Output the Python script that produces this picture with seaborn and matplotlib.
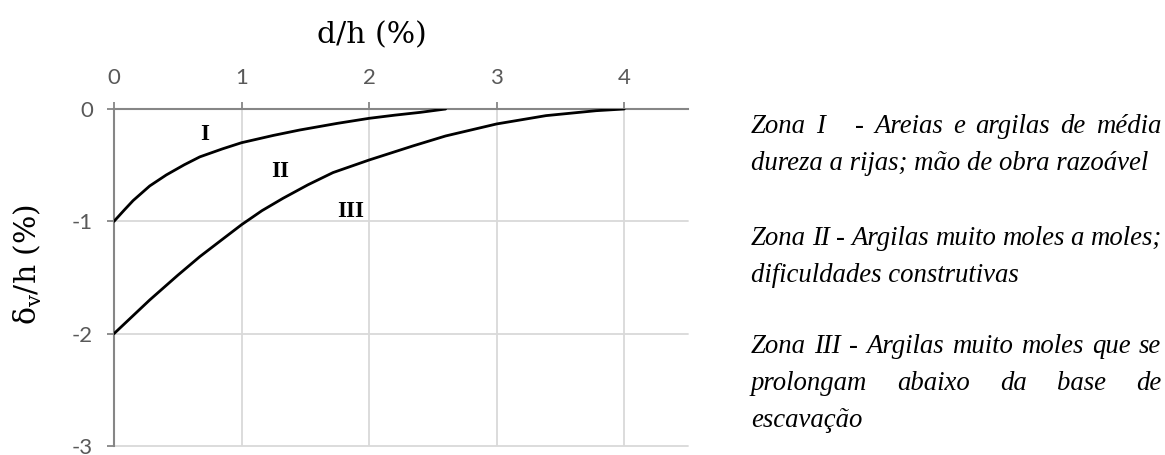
import matplotlib
matplotlib.use('Agg')
import matplotlib.pyplot as plt
import pandas as pd
import seaborn as sns

# Curve I (upper) and curve II/III (lower)
zone1_x = [0.0, 0.08, 0.15, 0.28, 0.41, 0.55, 0.673, 0.85, 1.0, 1.25, 1.456, 1.75, 2.0, 2.2, 2.4, 2.6]
zone1_y = [-1.0, -0.90, -0.815, -0.685, -0.587, -0.497, -0.426, -0.355, -0.30, -0.235, -0.187, -0.128, -0.083, -0.055, -0.03, 0.0]

zone2_x = [0.0, 0.14, 0.28, 0.5, 0.673, 0.85, 1.0, 1.16, 1.325, 1.52, 1.717, 2.0, 2.343, 2.6, 3.0, 3.387, 3.78, 4.0]
zone2_y = [-2.0, -1.85, -1.70, -1.48, -1.314, -1.16, -1.03, -0.905, -0.795, -0.675, -0.566, -0.454, -0.329, -0.24, -0.133, -0.059, -0.015, 0.0]

x_ticks = [0, 1, 2, 3, 4]
y_ticks = [0, -1, -2, -3]

zone_names = ['I', 'II', 'III']
zone_name_x = [0.707, 1.30, 1.853]
zone_name_y = [-0.23, -0.558, -0.913]

x_title = 'd/h (%)'
y_title = 'δ$_\\mathregular{v}$/h (%)'

# paragraph lines: (text, justified?)
notes = [
    [('Zona I   - Areias e argilas de média', True),
     ('dureza a rijas; mão de obra razoável', False)],
    [('Zona II - Argilas muito moles a moles;', True),
     ('dificuldades construtivas', False)],
    [('Zona III - Argilas muito moles que se', True),
     ('prolongam abaixo da base de', True),
     ('escavação', False)],
]
note_baselines = [[133, 170.5], [245, 282], [353, 390.5, 427]]

sns.set_theme(style='white')
plt.rcParams['axes.unicode_minus'] = False

W, H = 1165, 455
fig = plt.figure(figsize=(W / 100, H / 100), dpi=100)
ax = fig.add_axes([114 / W, 1 - 446 / H, (688 - 114) / W, (446 - 109) / H])

curves = pd.concat([
    pd.DataFrame({'d': zone1_x, 'dv': zone1_y, 'zona': 'I'}),
    pd.DataFrame({'d': zone2_x, 'dv': zone2_y, 'zona': 'II'}),
])
sns.lineplot(data=curves, x='d', y='dv', hue='zona', palette=['black', 'black'],
             linewidth=2.0, legend=False, ax=ax, zorder=5)

for name, lx, ly in zip(zone_names, zone_name_x, zone_name_y):
    ax.text(lx, ly, name, ha='center', va='center', fontsize=16.5,
            fontweight='bold', family='Liberation Serif', color='black')

ax.set_xlim(0, 4.5)
ax.set_ylim(-3, 0)
ax.set_xticks(x_ticks)
ax.set_yticks(y_ticks)
ax.xaxis.tick_top()
ax.set_xlabel('')
ax.set_ylabel('')

grid_c = '#d9d9d9'
axis_c = '#868686'
ax.grid(True, color=grid_c, linewidth=1.3)
for gl in ax.get_ygridlines():
    gl.set_clip_on(False)
for side in ['right', 'bottom']:
    ax.spines[side].set_visible(False)
for side in ['top', 'left']:
    ax.spines[side].set_color(axis_c)
    ax.spines[side].set_linewidth(1.5)
    ax.spines[side].set_zorder(4)

ax.tick_params(axis='x', top=True, bottom=False, direction='out', length=5,
               width=1.3, color=axis_c, pad=10, labelsize=16, labelcolor='#595959')
ax.tick_params(axis='y', left=True, direction='out', length=5, width=1.3,
               color=axis_c, pad=10, labelsize=16, labelcolor='#595959')
for lab in ax.get_xticklabels() + ax.get_yticklabels():
    lab.set_family('Lato')

fig.text(372 / W, 1 - 43 / H, x_title, ha='center', va='baseline',
         fontsize=21.5, family='DejaVu Serif', color='black')
fig.text(28 / W, 1 - 264 / H, y_title, ha='center', va='center', rotation=90,
         fontsize=21.5, family='DejaVu Serif', color='black')

# justified notes on the right
renderer = fig.canvas.get_renderer()
note_font = dict(fontsize=19.3, family='Liberation Serif', style='italic', color='black')
left_px, right_px = 751, 1161


def place_line(text, base_px, justify):
    y = 1 - base_px / H
    if not justify:
        fig.text(left_px / W, y, text, ha='left', va='baseline', **note_font)
        return
    words = text.split(' ')
    items = [fig.text(0, y, w, ha='left', va='baseline', **note_font) for w in words]
    widths = [t.get_window_extent(renderer).width if w else 0 for t, w in zip(items, words)]
    gap = (right_px - left_px - sum(widths)) / (len(words) - 1)
    x = left_px
    for t, w in zip(items, widths):
        t.set_x(x / W)
        x += w + gap


for para, bases in zip(notes, note_baselines):
    for (line, just), b in zip(para, bases):
        place_line(line, b, just)

fig.savefig('out.png', dpi=100)
